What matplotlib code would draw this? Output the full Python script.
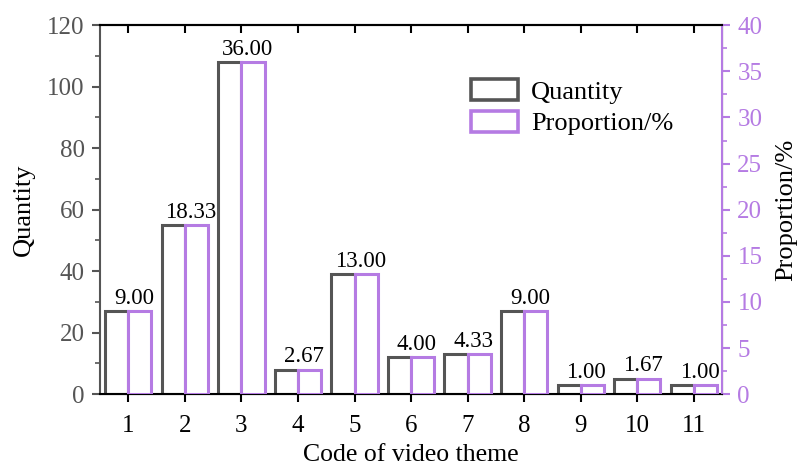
import numpy as np
import matplotlib.pyplot as plt
from matplotlib.ticker import MultipleLocator
from matplotlib.patches import Patch

plt.rcParams['font.family'] = ['Liberation Serif', 'DejaVu Serif']

codes = list(range(1, 12))
quantity = [27, 55, 108, 8, 39, 12, 13, 27, 3, 5, 3]
proportion = [9.00, 18.33, 36.00, 2.67, 13.00, 4.00, 4.33, 9.00, 1.00, 1.67, 1.00]

gray = '#555555'
purple = '#B57BE3'

fig = plt.figure(figsize=(7.97, 4.67), dpi=100)
ax = fig.add_axes([0.1255, 0.156, 0.7805, 0.79])
ax2 = ax.twinx()

x = np.array(codes)
w = 0.41
ax.bar(x - w / 2, quantity, width=w, facecolor='white', edgecolor=gray, linewidth=2.2, zorder=2)
ax2.bar(x + w / 2, proportion, width=w, facecolor='white', edgecolor=purple, linewidth=2.2, zorder=3)

for xi, p in zip(x, proportion):
    ax2.text(xi + 0.1, p + 0.25, f"{p:.2f}", ha='center', va='bottom', fontsize=16.5, color='black')

ax.set_xlim(0.5, 11.5)
ax.set_ylim(0, 120)
ax2.set_ylim(0, 40)
ax.set_xticks(codes)
ax.yaxis.set_major_locator(MultipleLocator(20))
ax.yaxis.set_minor_locator(MultipleLocator(10))
ax2.yaxis.set_major_locator(MultipleLocator(5))
ax2.yaxis.set_minor_locator(MultipleLocator(2.5))

ax.tick_params(axis='x', which='major', direction='out', length=6, width=1.5,
               labelsize=18, top=True, color='black', pad=9)
ax.tick_params(axis='y', which='major', direction='out', length=6, width=1.5,
               labelsize=18, colors=gray, pad=5)
ax.tick_params(axis='y', which='minor', direction='out', length=3.5, width=1.2, colors=gray)
ax2.tick_params(axis='y', which='major', direction='out', length=6, width=1.5,
                labelsize=18, colors=purple, pad=5)
ax2.tick_params(axis='y', which='minor', direction='out', length=3.5, width=1.2, colors=purple)
ax2.tick_params(axis='x', top=False)

# top ticks point inward
for t in ax.xaxis.get_major_ticks():
    t.tick2line.set_marker(3)

ax.spines['left'].set_color(gray)
ax.spines['left'].set_linewidth(1.5)
ax.spines['bottom'].set_linewidth(1.5)
ax.spines['top'].set_linewidth(1.5)
ax2.spines['left'].set_visible(False)
ax2.spines['right'].set_color(purple)
ax2.spines['right'].set_linewidth(1.5)
ax2.spines['top'].set_linewidth(1.5)

ax.set_xlabel('Code of video theme', fontsize=18.5, labelpad=5)
ax.set_ylabel('Quantity', fontsize=19, labelpad=9)
ax2.set_ylabel('Proportion/%', fontsize=19, labelpad=9)

handles = [Patch(facecolor='white', edgecolor=gray, linewidth=2.6, label='Quantity'),
           Patch(facecolor='white', edgecolor=purple, linewidth=2.6, label='Proportion/%')]
ax2.legend(handles=handles, loc='upper left', bbox_to_anchor=(0.597, 0.853), frameon=False,
           fontsize=19, handlelength=1.75, handleheight=0.85, handletextpad=0.5,
           labelspacing=0.25, borderaxespad=0, borderpad=0)

fig.savefig('out.png', dpi=100)
